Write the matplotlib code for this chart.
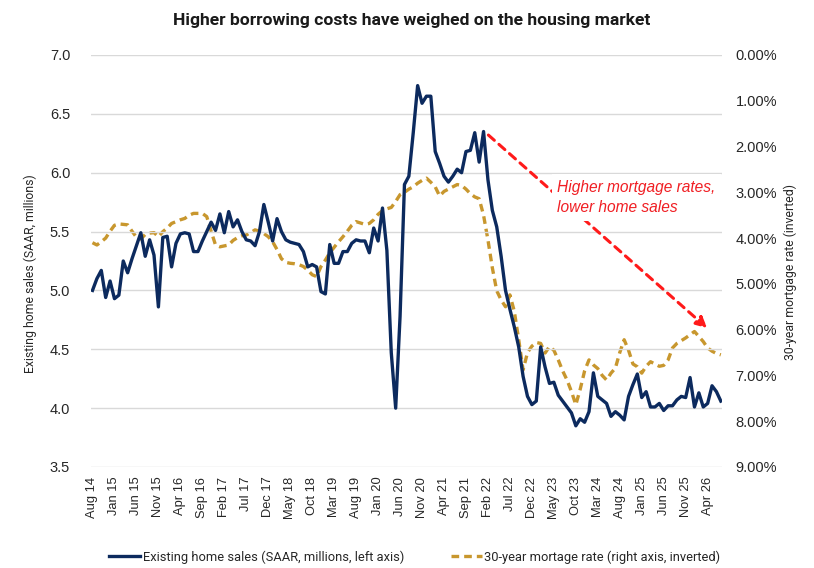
import matplotlib
matplotlib.use("Agg")
import matplotlib.pyplot as plt
from matplotlib.ticker import FixedLocator, FuncFormatter
from matplotlib import font_manager

# ---------------- data ----------------
months = ["Jan", "Feb", "Mar", "Apr", "May", "Jun", "Jul", "Aug", "Sep", "Oct", "Nov", "Dec"]
start_year = 2014
start_month = 8  # Aug 2014

home_sales = [
    5.00, 5.10, 5.17, 4.94, 5.08, 4.93, 4.96, 5.25, 5.15, 5.27,
    5.38, 5.49, 5.29, 5.43, 5.30, 4.86, 5.45, 5.46, 5.20, 5.40,
    5.48, 5.49, 5.48, 5.33, 5.33, 5.42, 5.50, 5.58, 5.51, 5.65,
    5.49, 5.67, 5.54, 5.60, 5.50, 5.43, 5.42, 5.38, 5.50, 5.73,
    5.58, 5.42, 5.61, 5.50, 5.43, 5.41, 5.40, 5.39, 5.33, 5.20,
    5.22, 5.20, 4.99, 4.97, 5.39, 5.23, 5.23, 5.33, 5.33, 5.40,
    5.43, 5.42, 5.42, 5.32, 5.53, 5.42, 5.70, 5.34, 4.47, 4.00,
    4.78, 5.90, 5.97, 6.34, 6.74, 6.59, 6.65, 6.65, 6.18, 6.08,
    5.97, 5.92, 5.97, 6.03, 6.00, 6.18, 6.19, 6.34, 6.09, 6.35,
    5.94, 5.68, 5.54, 5.29, 5.00, 4.84, 4.69, 4.52, 4.27, 4.10,
    4.03, 4.06, 4.52, 4.35, 4.21, 4.22, 4.11, 4.06, 4.01, 3.96,
    3.85, 3.91, 3.88, 3.97, 4.30, 4.10, 4.07, 4.04, 3.93, 3.97,
    3.94, 3.90, 4.10, 4.20, 4.29, 4.09, 4.14, 4.01, 4.01, 4.04,
    3.98, 4.02, 4.02, 4.07, 4.10, 4.09, 4.26, 4.01, 4.13, 4.01,
    4.04, 4.19, 4.14, 4.06,
]

mortgage_rate = [
    4.10, 4.15, 4.08, 4.00, 3.85, 3.72, 3.69, 3.70, 3.71, 3.85,
    3.98, 4.02, 3.92, 3.89, 3.88, 3.97, 3.86, 3.78, 3.68, 3.64,
    3.60, 3.57, 3.50, 3.46, 3.46, 3.46, 3.53, 3.85, 4.15, 4.19,
    4.17, 4.15, 4.05, 3.99, 3.95, 3.93, 3.88, 3.82, 3.85, 3.90,
    3.97, 4.08, 4.25, 4.45, 4.53, 4.55, 4.56, 4.58, 4.62, 4.70,
    4.80, 4.84, 4.62, 4.48, 4.32, 4.20, 4.08, 3.97, 3.85, 3.72,
    3.64, 3.67, 3.70, 3.68, 3.60, 3.48, 3.40, 3.36, 3.33, 3.20,
    3.05, 3.00, 2.93, 2.88, 2.80, 2.74, 2.69, 2.78, 2.88, 3.08,
    2.98, 2.93, 2.88, 2.83, 2.85, 2.93, 3.03, 3.10, 3.14, 3.50,
    4.04, 4.65, 5.15, 5.35, 5.50, 5.24, 5.60, 6.22, 6.88, 6.50,
    6.36, 6.28, 6.30, 6.51, 6.37, 6.45, 6.66, 6.90, 7.10, 7.35,
    7.64, 7.30, 6.90, 6.66, 6.77, 6.85, 7.00, 7.10, 6.95, 6.84,
    6.50, 6.22, 6.45, 6.75, 6.81, 6.95, 6.80, 6.70, 6.75, 6.80,
    6.78, 6.66, 6.40, 6.30, 6.24, 6.18, 6.11, 6.04, 6.15, 6.26,
    6.40, 6.47, 6.52, 6.55,
]

n = len(home_sales)
labels = []
for k in range(n):
    m = (start_month - 1 + k) % 12
    y = start_year + (start_month - 1 + k) // 12
    labels.append(f"{months[m]} {y % 100:02d}")
x = list(range(n))
tick_idx = list(range(0, n, 5))

left_ticks = [3.5, 4.0, 4.5, 5.0, 5.5, 6.0, 6.5, 7.0]
right_ticks = [0, 1, 2, 3, 4, 5, 6, 7, 8, 9]

# ---------------- fonts ----------------
avail = {f.name for f in font_manager.fontManager.ttflist}
narrow = "Liberation Sans Narrow" if "Liberation Sans Narrow" in avail else "Roboto"
reg = "Liberation Sans"

NAVY = "#0C2A5E"
GOLD = "#C8972E"
GRID = "#D9D9D9"
TXT = "#262626"

W, H = 814, 568
fig = plt.figure(figsize=(W / 100, H / 100), dpi=100)
L, R, T, B = 91, 721.7, 55, 467
ax = fig.add_axes([L / W, 1 - B / H, (R - L) / W, (B - T) / H])
ax2 = ax.twinx()

ax.set_zorder(2)
ax2.set_zorder(1)
ax.patch.set_visible(False)

ax.plot(x, home_sales, color=NAVY, lw=2.4, solid_joinstyle="round", zorder=3,
        label="Existing home sales (SAAR, millions, left axis)")
ax2.plot(x, mortgage_rate, color=GOLD, lw=2.4, ls=(0, (2.3, 1.5)), zorder=2,
         label="30-year mortage rate (right axis, inverted)")

ax.set_xlim(-0.34, 143.2)
ax.set_ylim(3.5, 7.0)
ax2.set_ylim(9.0, 0.0)

ax.yaxis.set_major_locator(FixedLocator(left_ticks))
ax.yaxis.set_major_formatter(FuncFormatter(lambda v, p: f"{v:.1f}"))
ax2.yaxis.set_major_locator(FixedLocator(right_ticks))
ax2.yaxis.set_major_formatter(FuncFormatter(lambda v, p: f"{v:.2f}%"))

ax.set_xticks(tick_idx)
ax.set_xticklabels([labels[i] for i in tick_idx], rotation=90, fontsize=9.3,
                   family=reg, color=TXT)
ax.grid(axis="y", color=GRID, lw=1.0, zorder=0)
ax.set_axisbelow(True)

for a in (ax, ax2):
    for s in a.spines.values():
        s.set_visible(False)
    a.tick_params(length=0)

ax.tick_params(axis="y", pad=15, labelsize=10.5, labelcolor=TXT)
ax.tick_params(axis="x", pad=7)
for t in ax.get_yticklabels():
    t.set_family(reg)
ax2.tick_params(axis="y", pad=10, labelsize=10.5, labelcolor=TXT)
for t in ax2.get_yticklabels():
    t.set_family(reg)

# axis titles
fig.text(30 / W, 1 - 274 / H, "Existing home sales (SAAR, millions)", rotation=90,
         ha="center", va="center", fontsize=8.8, family=narrow, color=TXT)
fig.text(790 / W, 1 - 272 / H, "30-year mortgage rate (inverted)", rotation=90,
         ha="center", va="center", fontsize=8.8, family=narrow, color=TXT)

# title
fig.text(412 / W, 1 - 20 / H, "Higher borrowing costs have weighed on the housing market",
         ha="center", va="center", fontsize=12.6, fontweight="bold", family=narrow,
         color="#1a1a1a")

# annotation arrow + text
ax.annotate("", xy=(139.9, 4.68), xytext=(90.1, 6.32),
            arrowprops=dict(arrowstyle="-|>", color="#FF1A1A", lw=2.2,
                            ls=(0, (2.6, 2.0)), mutation_scale=16,
                            shrinkA=0, shrinkB=0), zorder=4)
ax.text(105.8, 5.79, "Higher mortgage rates,\nlower home sales", color="#F01E23",
        fontsize=11.2, style="italic", family=reg, ha="left", va="center",
        linespacing=1.45, zorder=5,
        bbox=dict(boxstyle="square,pad=0.35", fc="white", ec="none"))

# legend
h1, l1 = ax.get_legend_handles_labels()
h2, l2 = ax2.get_legend_handles_labels()
leg = fig.legend(h1 + h2, l1 + l2, loc="center", bbox_to_anchor=(415 / W, 1 - 557 / H),
                 ncol=2, frameon=False, prop={"family": narrow, "size": 9.3},
                 handlelength=2.4, handletextpad=0.2, columnspacing=3.6)
for t in leg.get_texts():
    t.set_color(TXT)

fig.savefig("out.png", dpi=100, facecolor="white")
